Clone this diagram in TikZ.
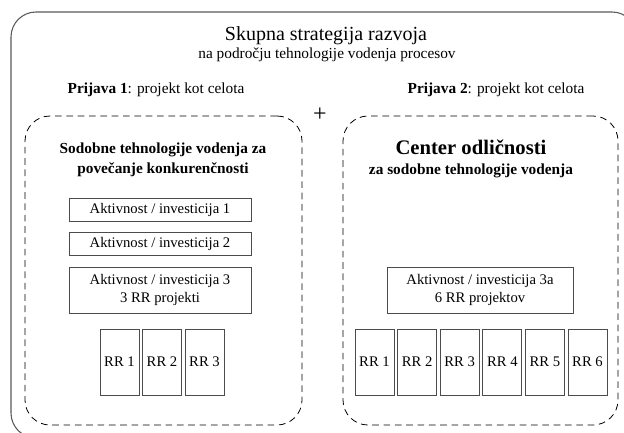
\documentclass[tikz,border=0pt]{standalone}
\usepackage{fontspec}
\setmainfont{Liberation Serif}
\usetikzlibrary{positioning}

\begin{document}
\begin{tikzpicture}[x=0.75pt, y=-0.75pt,
        box/.style={draw=black!70, line width=0.6pt, inner sep=2pt, align=center, font=\fontsize{11}{13}\selectfont},
        rrbox/.style={box, minimum width=29.25pt, minimum height=49.5pt},
        group/.style={draw=black, dash pattern=on 5pt off 3.5pt, line width=0.6pt, rounded corners=18.75pt, minimum height=231.75pt}]
            \useasboundingbox (0,0) rectangle (624,432);

            % outer frame, cut off at the right and at the bottom
            \node[draw=black!65, line width=0.8pt, rounded corners=18.75pt, minimum width=469.5pt, minimum height=319.5pt] (strategija) at (324, 225) {};

            \node[font=\fontsize{15}{17}\selectfont] (naslov) at (326, 36) {Skupna strategija razvoja};
            \node[font=\fontsize{11.5}{13}\selectfont] (podnaslov) at (327, 55) {na področju tehnologije vodenja procesov};

            \node[font=\fontsize{11.5}{13}\selectfont] (prijava1) at (156, 90) {\textbf{Prijava 1}: projekt kot celota};
            \node[font=\fontsize{11.5}{13}\selectfont] (prijava2) at (496, 90) {\textbf{Prijava 2}: projekt kot celota};
            \node[font=\fontsize{18}{18}\selectfont] (plus) at (320, 115) {+};

            % the two applications
            \node[group, minimum width=207.75pt] (skupina1) at (163.5, 270.5) {};
            \node[group, minimum width=206.25pt] (skupina2) at (480.5, 270.5) {};

            \node[align=center, font=\bfseries\fontsize{11.5}{15}\selectfont] (naslov1) at (163, 160) {Sodobne tehnologije vodenja za\\povečanje konkurenčnosti};
            \node[align=center, font=\bfseries\fontsize{11.5}{15}\selectfont] (naslov2) at (471, 159) {{\fontsize{15.5}{17}\selectfont Center odličnosti}\\za sodobne tehnologije vodenja};

            \node[box, minimum width=136.5pt, minimum height=17.25pt] (ai1) at (160, 209.5) {Aktivnost / investicija 1};
            \node[box, minimum width=136.5pt, minimum height=17.25pt] (ai2) at (160, 243.5) {Aktivnost / investicija 2};
            \node[box, minimum width=136.5pt, minimum height=34.5pt] (ai3) at (160, 290) {Aktivnost / investicija 3\\3 RR projekti};
            \node[box, minimum width=139.5pt, minimum height=34.5pt] (ai3a) at (480, 290) {Aktivnost / investicija 3a\\6 RR projektov};

            \node[rrbox] (rr11) at (119.5, 362) {RR 1};
            \node[rrbox] (rr12) at (162, 362) {RR 2};
            \node[rrbox] (rr13) at (204.5, 362) {RR 3};

            \node[rrbox] (rr21) at (374.5, 362) {RR 1};
            \node[rrbox] (rr22) at (417.1, 362) {RR 2};
            \node[rrbox] (rr23) at (459.7, 362) {RR 3};
            \node[rrbox] (rr24) at (502.3, 362) {RR 4};
            \node[rrbox] (rr25) at (544.9, 362) {RR 5};
            \node[rrbox] (rr26) at (587.5, 362) {RR 6};
        \end{tikzpicture}
\end{document}
